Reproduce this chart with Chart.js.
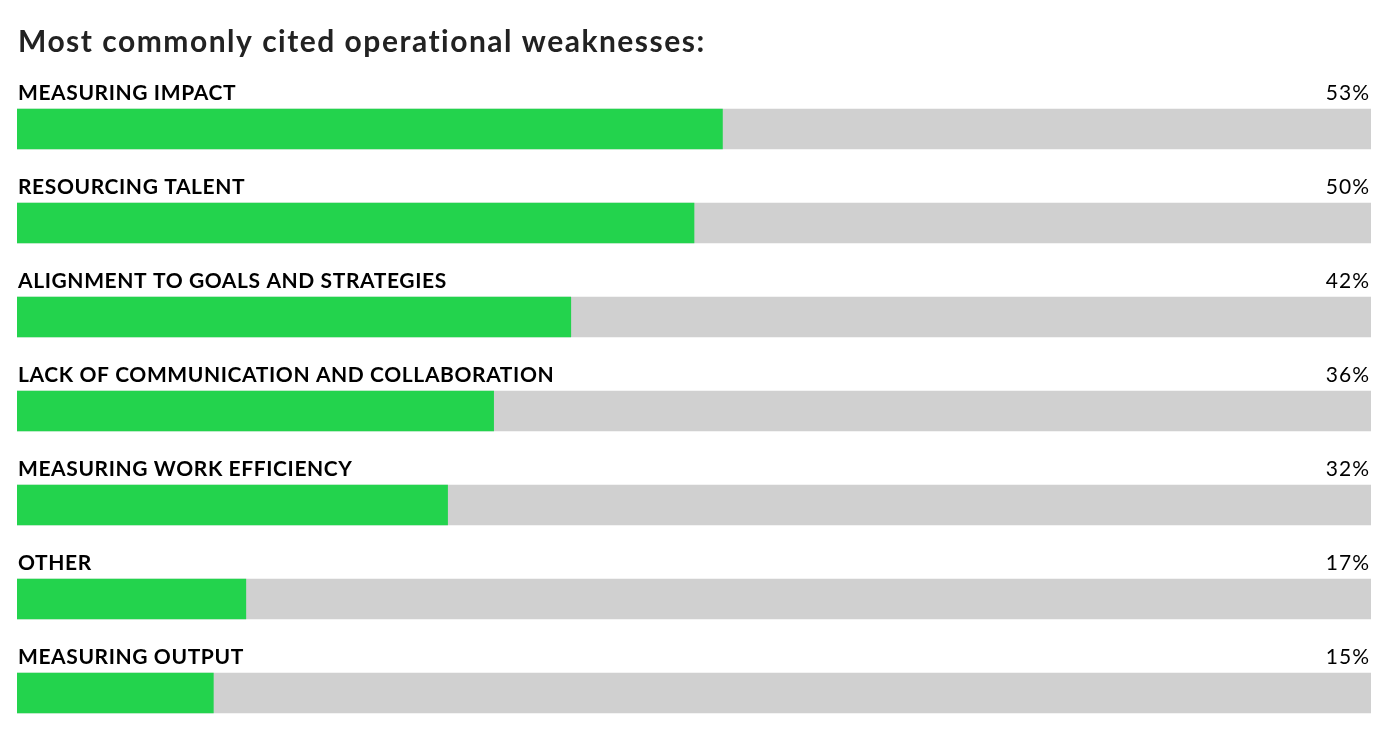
<!DOCTYPE html>
<html>
<head>
<meta charset="utf-8">
<script src="https://cdn.jsdelivr.net/npm/chart.js@4"></script>
<style>
  html, body { margin: 0; padding: 0; background: #fff; }
  #wrap { width: 1400px; height: 742px; position: relative; }
</style>
</head>
<body>
<div id="wrap"><canvas id="myChart"></canvas></div>
<script>
// chart data
const chartTitle = "Most commonly cited operational weaknesses:";
const categories = [
  "MEASURING IMPACT",
  "RESOURCING TALENT",
  "ALIGNMENT TO GOALS AND STRATEGIES",
  "LACK OF COMMUNICATION AND COLLABORATION",
  "MEASURING WORK EFFICIENCY",
  "OTHER",
  "MEASURING OUTPUT"
];
// bar lengths as drawn (percent of track)
const barValues = [52.1, 50.0, 40.9, 35.2, 31.8, 16.9, 14.5];
// printed percent labels
const pctLabels = ["53%", "50%", "42%", "36%", "32%", "17%", "15%"];
// full track behind each bar
const trackValues = [100, 100, 100, 100, 100, 100, 100];

const fontFam = "Lato, 'Noto Sans', sans-serif";

// draws title, category names above bars and percents at the right
const labelPlugin = {
  id: "labelPlugin",
  afterDatasetsDraw(chart) {
    const ctx = chart.ctx;
    const area = chart.chartArea;
    const yScale = chart.scales.y;
    ctx.save();
    ctx.textBaseline = "alphabetic";

    ctx.fillStyle = "#222";
    ctx.font = "bold 30px " + fontFam;
    ctx.letterSpacing = "1.5px";
    ctx.textAlign = "left";
    ctx.fillText(chartTitle, 18, 52);

    categories.forEach((cat, i) => {
      const yc = yScale.getPixelForValue(i);
      const base = yc - 20 - 9;
      ctx.fillStyle = "#000";
      ctx.font = "bold 21px " + fontFam;
      ctx.letterSpacing = "0.6px";
      ctx.textAlign = "left";
      ctx.fillText(cat, area.left + 1, base);
      ctx.font = "normal 21px " + fontFam;
      ctx.letterSpacing = "1px";
      ctx.textAlign = "right";
      ctx.fillText(pctLabels[i], area.right - 1, base);
    });
    ctx.restore();
  }
};

const ctx = document.getElementById("myChart");
const myChart = new Chart(ctx, {
  type: "bar",
  data: {
    labels: categories,
    datasets: [{
      label: "Share",
      data: barValues,
      backgroundColor: "#23d34d",
      barThickness: 40,
      borderWidth: 0
    }, {
      label: "Track",
      data: trackValues,
      backgroundColor: "#d0d0d0",
      barThickness: 40,
      borderWidth: 0
    }]
  },
  options: {
    indexAxis: "y",
    responsive: true,
    maintainAspectRatio: false,
    animation: false,
    grouped: false,
    layout: { padding: { left: 17, right: 29, top: 82, bottom: 2 } },
    scales: {
      x: { display: false, min: 0, max: 100 },
      y: { display: false, offset: true }
    },
    plugins: {
      legend: { display: false },
      title: { display: false },
      tooltip: { enabled: false }
    }
  },
  plugins: [labelPlugin]
});
</script>
</body>
</html>
